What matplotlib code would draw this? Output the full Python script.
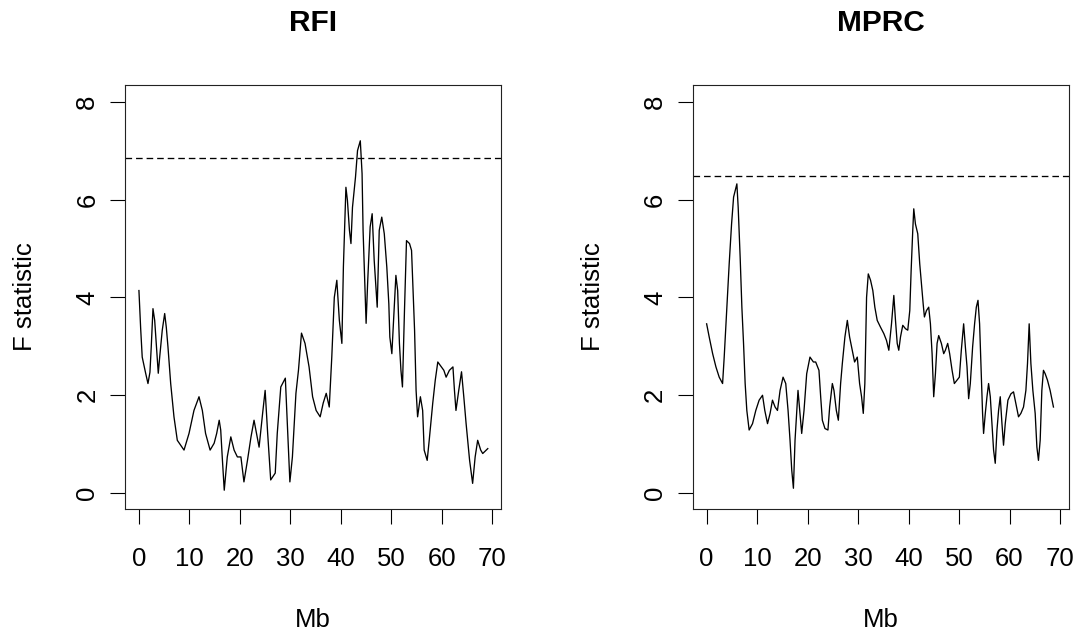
import matplotlib
matplotlib.use("Agg")
import matplotlib.pyplot as plt

plt.rcParams["font.family"] = ["Liberation Sans", "DejaVu Sans"]

# RFI: position (Mb) and F statistic
rfi_mb = [0, 0.34, 0.65, 1.33, 1.79, 2.18, 2.44, 2.78, 3.12, 3.43, 3.83, 4.11, 4.62, 5.1,
          5.42, 5.75, 6.29, 6.94, 7.6, 8.93, 9.92, 10.9, 11.9, 12.56, 13.2, 14.1, 14.9,
          15.4, 15.9, 16.2, 16.5, 16.9, 17.5, 18.2, 18.85, 19.5, 20.2, 20.8, 21.5, 22.2,
          22.8, 23.8, 24.5, 25.0, 25.5, 26.1, 27.0, 27.4, 28.1, 29.0, 29.4, 29.9, 30.4,
          31.1, 31.6, 32.2, 32.9, 33.7, 34.4, 35.1, 35.9, 36.5, 37.1, 37.7, 38.2, 38.7,
          39.2, 39.7, 40.2, 40.5, 41.0, 41.3, 41.7, 42.0, 42.3, 42.9, 43.3, 43.85, 44.2,
          44.4, 44.8, 45.0, 45.3, 45.8, 46.2, 46.6, 47.0, 47.2, 47.6, 48.1, 48.6, 49.1,
          49.5, 49.7, 50.1, 50.5, 50.9, 51.25, 51.6, 51.9, 52.2, 52.6, 53.0, 53.6, 54.0,
          54.6, 54.9, 55.2, 55.75, 56.2, 56.5, 57.1, 57.5, 58.2, 58.7, 59.2, 59.9, 60.4,
          60.85, 61.5, 62.2, 62.5, 62.8, 63.35, 63.9, 64.35, 64.8, 65.5, 66.1, 66.6, 67.1,
          67.7, 68.1, 69.1]
rfi_f = [4.14, 3.37, 2.78, 2.45, 2.24, 2.47, 2.99, 3.77, 3.53, 3.06, 2.45, 2.78, 3.33, 3.67,
         3.39, 2.99, 2.24, 1.56, 1.08, 0.88, 1.22, 1.69, 1.97, 1.69, 1.22, 0.88, 1.02,
         1.22, 1.49, 1.29, 0.74, 0.06, 0.74, 1.15, 0.88, 0.74, 0.74, 0.23, 0.67, 1.15,
         1.49, 0.94, 1.63, 2.1, 1.22, 0.27, 0.41, 1.22, 2.17, 2.35, 1.43, 0.23, 0.74,
         2.04, 2.51, 3.27, 3.06, 2.58, 1.97, 1.69, 1.56, 1.84, 2.04, 1.76, 2.78, 4.0,
         4.35, 3.53, 3.06, 4.62, 6.25, 5.98, 5.37, 5.1, 5.84, 6.46, 7.0, 7.2, 6.53,
         5.37, 4.14, 3.47, 4.29, 5.44, 5.71, 4.76, 4.14, 3.8, 5.37, 5.64, 5.3, 4.62,
         3.87, 3.19, 2.85, 3.67, 4.45, 4.14, 3.06, 2.51, 2.17, 3.73, 5.16, 5.1, 4.96,
         3.33, 2.1, 1.56, 1.97, 1.69, 0.88, 0.67, 1.08, 1.84, 2.31, 2.68, 2.58, 2.51,
         2.37, 2.51, 2.58, 2.1, 1.69, 2.1, 2.48, 1.97, 1.43, 0.67, 0.2, 0.74, 1.08,
         0.88, 0.81, 0.91]
rfi_threshold = 6.84

# MPRC: position (Mb) and F statistic
mprc_mb = [0, 0.51, 1.19, 1.84, 2.49, 3.16, 3.48, 4.01, 4.47, 4.94, 5.34, 5.65, 5.99, 6.25,
           6.64, 6.98, 7.31, 7.63, 7.96, 8.42, 9.09, 9.74, 10.4, 11.07, 11.52, 12.06, 12.57,
           13.04, 13.56, 14.03, 14.55, 15.14, 15.67, 16.13, 16.52, 16.86, 17.19, 17.51,
           17.85, 18.1, 18.44, 18.83, 19.29, 19.82, 20.47, 21.15, 21.6, 22.25, 22.59,
           22.92, 23.44, 24.03, 24.37, 24.9, 25.22, 25.69, 26.09, 26.54, 26.88, 27.39,
           27.87, 28.32, 28.85, 29.31, 29.84, 30.3, 30.69, 31.03, 31.34, 31.68, 32.02,
           32.47, 32.92, 33.32, 33.79, 34.45, 35.1, 35.63, 36.09, 36.62, 37.08, 37.41,
           37.75, 38.06, 38.4, 38.85, 39.39, 39.84, 40.24, 40.51, 40.83, 41.03, 41.36,
           41.82, 42.21, 42.55, 42.89, 43.14, 43.54, 43.99, 44.33, 44.66, 44.98, 45.32,
           45.65, 45.97, 46.5, 46.96, 47.29, 47.75, 48.14, 48.62, 49.07, 49.6, 50.06,
           50.45, 50.91, 51.25, 51.58, 51.9, 52.23, 52.69, 53.08, 53.42, 53.75, 54.07,
           54.35, 54.66, 54.86, 55.2, 55.53, 55.85, 56.19, 56.52, 56.84, 57.17, 57.51,
           57.83, 58.16, 58.5, 58.81, 59.15, 59.68, 60.28, 60.79, 61.26, 61.78, 62.25,
           62.77, 63.24, 63.56, 63.89, 64.23, 64.62, 65.08, 65.42, 65.73, 66.07, 66.4,
           66.72, 67.06, 67.51, 68.04, 68.7]
mprc_f = [3.46, 3.19, 2.85, 2.58, 2.37, 2.24, 2.78, 3.8, 4.69, 5.5, 6.05, 6.18, 6.32, 5.84,
          4.82, 3.8, 3.06, 2.24, 1.69, 1.29, 1.42, 1.69, 1.9, 2.0, 1.69, 1.42, 1.63,
          1.9, 1.76, 1.69, 2.1, 2.37, 2.24, 1.69, 1.08, 0.47, 0.1, 1.08,
          1.69, 2.1, 1.69, 1.22, 1.69, 2.44, 2.78, 2.68, 2.68, 2.51, 1.97,
          1.49, 1.32, 1.29, 1.76, 2.24, 2.1, 1.69, 1.49, 2.24, 2.65, 3.19,
          3.53, 3.19, 2.92, 2.68, 2.78, 2.24, 1.97, 1.63, 2.24, 4.0, 4.48,
          4.35, 4.14, 3.8, 3.53, 3.39, 3.26, 3.12, 2.92, 3.46, 4.04, 3.53,
          3.06, 2.92, 3.19, 3.43, 3.36, 3.33, 3.73, 4.55, 5.37, 5.81, 5.5,
          5.3, 4.69, 4.28, 3.87, 3.6, 3.73, 3.8, 3.46, 2.85, 1.97, 2.44,
          3.06, 3.22, 3.06, 2.85, 2.92, 3.06, 2.85, 2.51, 2.24, 2.31, 2.37,
          2.92, 3.46, 2.99, 2.58, 1.93, 2.24, 2.99, 3.46, 3.8, 3.94, 3.46,
          2.58, 1.63, 1.22, 1.63, 1.97, 2.24, 1.97, 1.42, 0.88, 0.61, 1.29,
          1.69, 1.97, 1.42, 0.98, 1.42, 1.9, 2.03, 2.07, 1.83, 1.56, 1.63,
          1.76, 2.1, 2.65, 3.46, 2.65, 2.1, 1.63, 0.94, 0.67, 1.08, 2.1,
          2.51, 2.44, 2.31, 2.1, 1.76]
mprc_threshold = 6.48

titles = ["RFI", "MPRC"]
x_ticks = [0, 10, 20, 30, 40, 50, 60, 70]
y_ticks = [0, 2, 4, 6, 8]

W, H = 1079, 637
fig = plt.figure(figsize=(W / 100, H / 100), dpi=100)

panels = [(125, rfi_mb, rfi_f, rfi_threshold), (692.7, mprc_mb, mprc_f, mprc_threshold)]
for (left_px, mb, fval, thr), title in zip(panels, titles):
    ax = fig.add_axes([left_px / W, 1 - 509.3 / H, 376.2 / W, 424.3 / H])
    ax.plot(mb, fval, color="black", lw=0.95)
    ax.axhline(thr, color="black", lw=0.95, dashes=(5, 3))
    ax.set_xlim(-2.76, 71.76)
    ax.set_ylim(-0.33, 8.34)
    ax.set_xticks(x_ticks)
    ax.set_yticks(y_ticks)
    ax.tick_params(axis="both", direction="out", length=10.5, width=0.8,
                   labelsize=18.5, colors="black")
    ax.tick_params(axis="x", pad=17)
    ax.tick_params(axis="y", pad=8, labelrotation=90)
    for lab in ax.get_yticklabels():
        lab.set_verticalalignment("center")
    for s in ax.spines.values():
        s.set_linewidth(0.8)
        s.set_color("#222222")
    cx = (left_px + 376.2 / 2) / W
    fig.text(cx, 1 - 23 / H, title, ha="center", va="center",
             fontsize=21.5, fontweight="bold")
    fig.text(cx, 1 - 620 / H, "Mb", ha="center", va="center", fontsize=18.5)
    fig.text((left_px - 100) / W, 1 - 297 / H, "F statistic", ha="center",
             va="center", rotation=90, fontsize=18.5)

fig.savefig("out.png", dpi=100)
